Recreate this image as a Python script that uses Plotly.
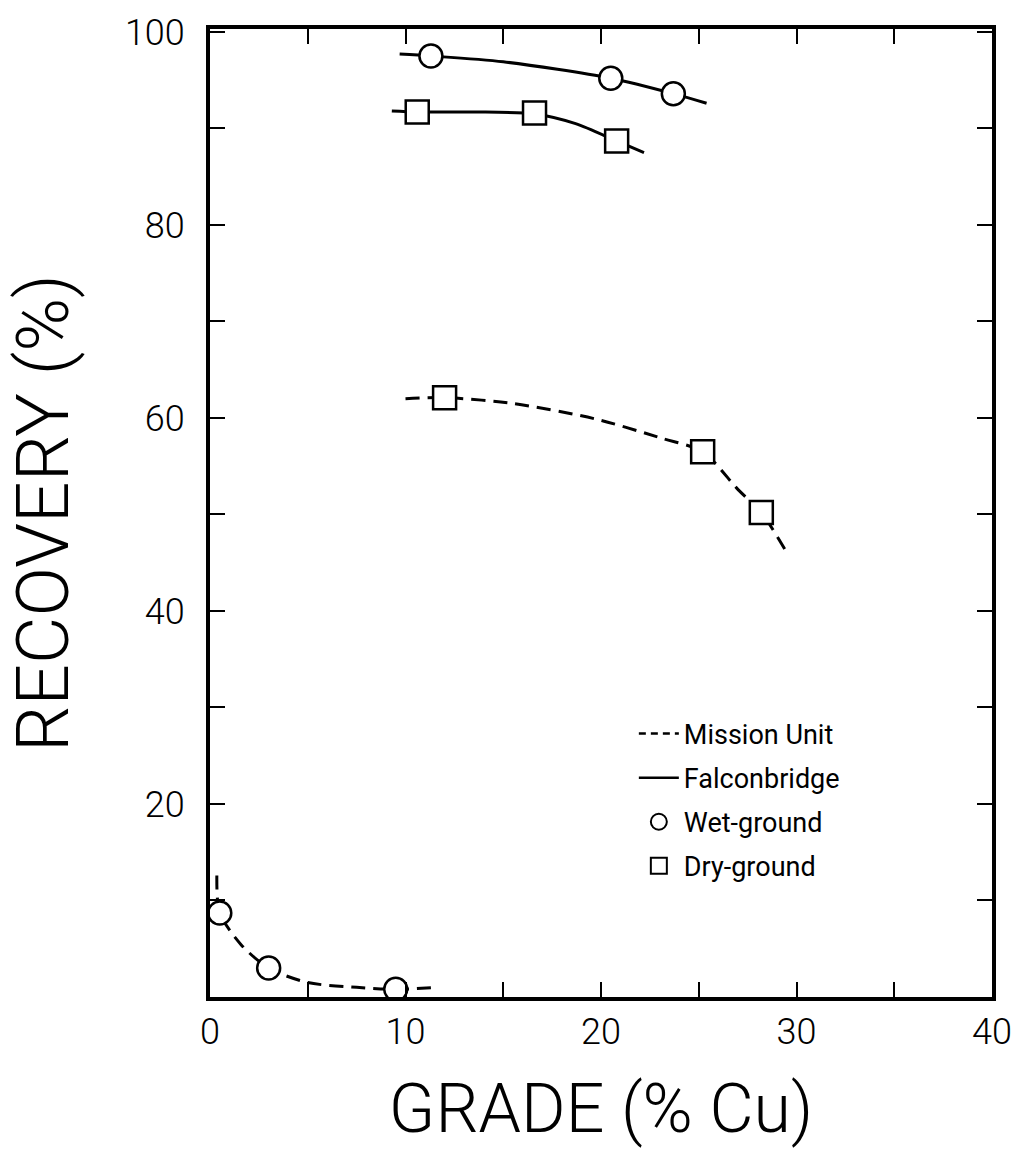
import plotly.graph_objects as go

fb_wet_x = [11.3, 20.5, 23.7]
fb_wet_y = [97.5, 95.2, 93.6]
fb_dry_x = [10.6, 16.6, 20.8]
fb_dry_y = [91.7, 91.6, 88.7]
mu_dry_x = [12.0, 25.2, 28.2]
mu_dry_y = [62.1, 56.5, 50.2]
mu_wet_x = [0.5, 3.0, 9.5]
mu_wet_y = [8.7, 3.0, 0.8]

# Hand-drawn fitted curves
fb_wet_cx = [9.7, 11.3, 15.0, 20.5, 23.7, 25.4]
fb_wet_cy = [97.7, 97.5, 96.9, 95.2, 93.6, 92.6]
fb_dry_cx = [9.3, 10.6, 13.5, 16.6, 18.7, 20.8, 22.2]
fb_dry_cy = [91.8, 91.7, 91.7, 91.5, 90.5, 88.7, 87.5]
mu_dry_cx = [10.0, 12.0, 15.5, 19.7, 23.1, 25.2, 27.0, 28.2, 29.4]
mu_dry_cy = [62.0, 62.1, 61.5, 59.9, 57.9, 56.5, 52.6, 50.2, 46.4]
mu_wet_cx = [0.35, 0.5, 1.6, 3.0, 5.0, 7.5, 9.5, 11.6]
mu_wet_cy = [12.6, 8.7, 5.4, 3.0, 1.5, 1.0, 0.8, 1.0]

x_ticks = [0, 10, 20, 30, 40]
y_ticks = [20, 40, 60, 80, 100]

FONT = "Roboto"
DASH = "14px,8px"

fig = go.Figure()

def curve(x, y, dash):
    fig.add_trace(go.Scatter(x=x, y=y, mode="lines", showlegend=False,
                             line=dict(color="black", width=3, dash=dash, shape="spline", smoothing=0.8),
                             hoverinfo="skip"))

def pts(x, y, symbol):
    fig.add_trace(go.Scatter(x=x, y=y, mode="markers", showlegend=False,
                             marker=dict(symbol=symbol, size=23, color="white",
                                         line=dict(color="black", width=2.5))))

curve(fb_wet_cx, fb_wet_cy, "solid")
curve(fb_dry_cx, fb_dry_cy, "solid")
curve(mu_dry_cx, mu_dry_cy, DASH)
curve(mu_wet_cx, mu_wet_cy, DASH)
pts(fb_wet_x, fb_wet_y, "circle")
pts(mu_wet_x, mu_wet_y, "circle")
pts(fb_dry_x, fb_dry_y, "square")
pts(mu_dry_x, mu_dry_y, "square")

# Legend entries
fig.add_trace(go.Scatter(x=[None], y=[None], mode="lines", name="Mission Unit", legendgroup="a",
                         line=dict(color="black", width=2.5, dash="7px,5px")))
fig.add_trace(go.Scatter(x=[None], y=[None], mode="lines", name="Falconbridge", legendgroup="b",
                         line=dict(color="black", width=2.5)))
fig.add_trace(go.Scatter(x=[None], y=[None], mode="markers", name="Wet-ground", legendgroup="c",
                         marker=dict(symbol="circle", size=20, color="white", line=dict(color="black", width=2))))
fig.add_trace(go.Scatter(x=[None], y=[None], mode="markers", name="Dry-ground", legendgroup="d",
                         marker=dict(symbol="square", size=20, color="white", line=dict(color="black", width=2))))

fig.update_layout(
    width=1024, height=1149,
    margin=dict(l=210, r=30, t=20, b=150),
    paper_bgcolor="white", plot_bgcolor="white",
    font=dict(family=FONT, color="black"),
    showlegend=True,
    legend=dict(x=0.542, y=0.297, xanchor="left", yanchor="top",
                font=dict(size=27, family=FONT), bgcolor="rgba(0,0,0,0)",
                traceorder="grouped", tracegroupgap=6, itemwidth=40),
    xaxis=dict(range=[0, 40], tickvals=x_ticks, ticktext=[str(v) for v in x_ticks],
               ticks="inside", ticklen=15, tickwidth=2, tickcolor="black",
               minor=dict(dtick=5, tick0=0, ticks="inside", ticklen=15, tickwidth=2, tickcolor="black"),
               showline=True, linewidth=4, linecolor="black", mirror="ticks",
               showgrid=False, zeroline=False, ticklabelstandoff=0,
               tickfont=dict(size=36, family=FONT, weight=300),
               title=dict(text="GRADE (% Cu)", font=dict(size=68, family=FONT, weight=300), standoff=36)),
    yaxis=dict(range=[0, 100.3], tickvals=y_ticks, ticktext=[str(v) for v in y_ticks],
               ticks="inside", ticklen=15, tickwidth=2, tickcolor="black",
               minor=dict(dtick=10, tick0=0, ticks="inside", ticklen=15, tickwidth=2, tickcolor="black"),
               showline=True, linewidth=4, linecolor="black", mirror="ticks",
               showgrid=False, zeroline=False, ticklabelstandoff=14,
               tickfont=dict(size=36, family=FONT, weight=300),
               title=dict(text="RECOVERY (%)", font=dict(size=73, family=FONT, weight=300), standoff=47)),
)

fig.write_html("out.html")
